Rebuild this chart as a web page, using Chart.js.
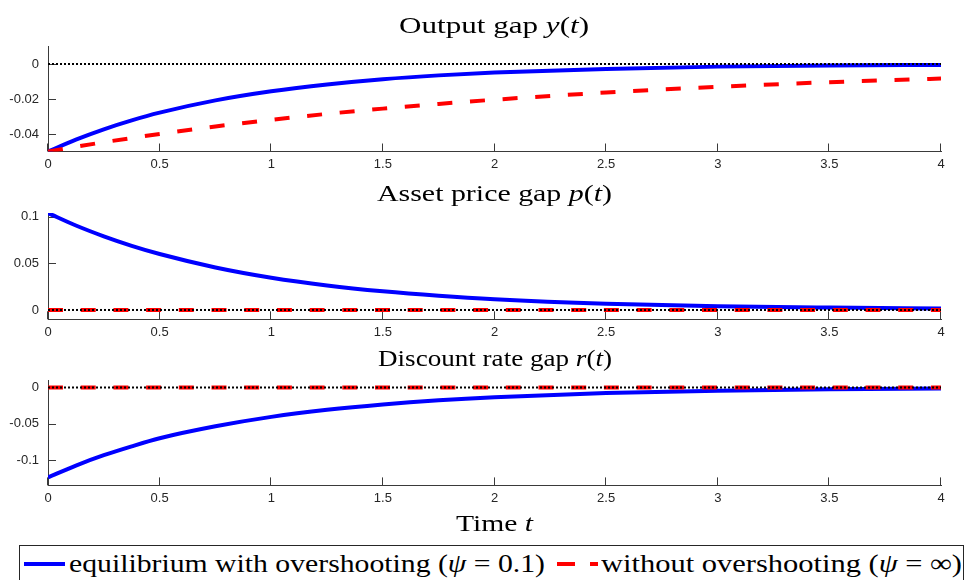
<!DOCTYPE html>
<html>
<head>
<meta charset="utf-8">
<script src="https://cdn.jsdelivr.net/npm/chart.js@4"></script>
<style>
  html, body { margin: 0; padding: 0; background: #fff; }
  body { width: 966px; height: 580px; overflow: hidden; position: relative;
         font-family: "Liberation Serif", "DejaVu Serif", serif; color: #000; }
  .plot { position: absolute; left: 0; width: 966px; }
  .txt { position: absolute; white-space: nowrap; display: inline-block;
         transform-origin: 0 50%; }
  .ttl { font-size: 24px; line-height: 30px; height: 30px; }
  .leg { font-size: 26px; line-height: 30px; height: 30px; }
  .legend { position: absolute; left: 19px; top: 545px; width: 945px; height: 45px;
            border: 1px solid #262626; box-sizing: border-box; }
  .swatch { position: absolute; height: 4px; }
</style>
</head>
<body>

<canvas id="cOutput" class="plot" style="top:0px" width="966" height="180"></canvas>
<canvas id="cPrice" class="plot" style="top:180px" width="966" height="170"></canvas>
<canvas id="cRate" class="plot" style="top:350px" width="966" height="180"></canvas>

<span class="txt ttl" style="left:399px; top:10px" data-fit="190">Output gap <i>y</i>(<i>t</i>)</span>
<span class="txt ttl" style="left:377px; top:178px" data-fit="235">Asset price gap <i>p</i>(<i>t</i>)</span>
<span class="txt ttl" style="left:378px; top:343px" data-fit="234">Discount rate gap <i>r</i>(<i>t</i>)</span>
<span class="txt ttl" style="left:456px; top:508px" data-fit="77">Time <i>t</i></span>

<div class="legend"></div>
<div class="swatch" style="left:24px; top:562px; width:41px; background:#0000ff"></div>
<span class="txt leg" style="left:69px; top:549px" data-fit="476">equilibrium with overshooting (<i>ψ</i> = 0.1)</span>
<div class="swatch" style="left:557px; top:562px; width:18px; background:#ff0000"></div>
<div class="swatch" style="left:590px; top:562px; width:8px; background:#ff0000"></div>
<span class="txt leg" style="left:601px; top:549px" data-fit="361">without overshooting (<i>ψ</i> = ∞)</span>

<script>
// Time grid and impulse responses of the three gaps
const time = [0, 0.125, 0.25, 0.375, 0.5, 0.75, 1, 1.25, 1.5, 1.75, 2, 2.5, 3, 3.5, 4];

const outputOvershoot   = [-0.05, -0.0432, -0.0373, -0.0322, -0.0278, -0.0208, -0.0156, -0.0117, -0.0087, -0.0065, -0.0049, -0.0028, -0.0015, -0.0008, -0.0005];
const outputNoOvershoot = [-0.05, -0.0473, -0.0447, -0.0423, -0.0400, -0.0357, -0.0319, -0.0285, -0.0255, -0.0228, -0.0204, -0.0163, -0.0130, -0.0104, -0.0083];

const priceOvershoot    = [0.104, 0.0906, 0.0790, 0.0688, 0.0600, 0.0456, 0.0346, 0.0263, 0.0200, 0.0152, 0.0115, 0.0067, 0.0040, 0.0026, 0.0017];
const priceNoOvershoot  = [0, 0, 0, 0, 0, 0, 0, 0, 0, 0, 0, 0, 0, 0, 0];

const rateOvershoot     = [-0.124, -0.1076, -0.0934, -0.0811, -0.0700, -0.0535, -0.0405, -0.0307, -0.0233, -0.0176, -0.0134, -0.0077, -0.0044, -0.0025, -0.0015];
const rateNoOvershoot   = [0, 0, 0, 0, 0, 0, 0, 0, 0, 0, 0, 0, 0, 0, 0];

// Steady-state reference line
const zeroLineT = [0, 4];
const zeroLineV = [0, 0];

// Axis ticks
const xTicks = [0, 0.5, 1, 1.5, 2, 2.5, 3, 3.5, 4];
const xTickLabels = ['0', '0.5', '1', '1.5', '2', '2.5', '3', '3.5', '4'];
const outputYTicks = [-0.04, -0.02, 0];
const outputYTickLabels = ['-0.04', '-0.02', '0'];
const priceYTicks = [0, 0.05, 0.1];
const priceYTickLabels = ['0', '0.05', '0.1'];
const rateYTicks = [-0.1, -0.05, 0];
const rateYTickLabels = ['-0.1', '-0.05', '0'];

// Axis limits
const outputYRange = [-0.05, 0.01];
const priceYRange = [-0.01, 0.104];
const rateYRange = [-0.135, 0.01];

const pts = (xs, ys) => xs.map((x, i) => ({ x, y: ys[i] }));

const AXIS = '#3a3a3a';
const TICKTXT = '#262626';

// Tick marks drawn inward from the axes
const insideTicks = {
  id: 'insideTicks',
  beforeDatasetsDraw(chart) {
    const { ctx, chartArea: a, scales: { x, y } } = chart;
    ctx.save();
    ctx.strokeStyle = AXIS;
    ctx.lineWidth = 1;
    ctx.beginPath();
    x.ticks.forEach(t => {
      const px = Math.round(x.getPixelForValue(t.value)) - 0.5;
      ctx.moveTo(px, a.bottom);
      ctx.lineTo(px, a.bottom - 8);
    });
    y.ticks.forEach(t => {
      const py = Math.round(y.getPixelForValue(t.value)) + 0.5;
      ctx.moveTo(a.left, py);
      ctx.lineTo(a.left + 8, py);
    });
    ctx.stroke();
    ctx.restore();
  }
};

function makeChart(id, blue, red, yRange, yTicks, yLabels, padTop, xAxisH) {
  const tickFont = { family: '"Liberation Sans", Arial, sans-serif', size: 13 };
  return new Chart(document.getElementById(id), {
    type: 'line',
    data: {
      datasets: [
        { data: pts(time, blue), borderColor: '#0000ff', borderWidth: 4,
          pointRadius: 0, cubicInterpolationMode: 'monotone', order: 3 },
        { data: pts(time, red), borderColor: '#ff0000', borderWidth: 4,
          borderDash: [15, 17.7], pointRadius: 0, cubicInterpolationMode: 'monotone', order: 2 },
        { data: pts(zeroLineT, zeroLineV), borderColor: '#000000', borderWidth: 2,
          borderDash: [2, 2], pointRadius: 0, order: 1 }
      ]
    },
    options: {
      responsive: false,
      animation: false,
      events: [],
      layout: { padding: { top: padTop, left: 0, right: 25, bottom: 0 } },
      plugins: { legend: { display: false }, title: { display: false }, tooltip: { enabled: false } },
      scales: {
        x: {
          type: 'linear', min: 0, max: 4,
          afterBuildTicks: s => { s.ticks = xTicks.map(v => ({ value: v })); },
          afterFit: s => { s.height = xAxisH; },
          ticks: { callback: (v, i) => xTickLabels[i], font: tickFont, color: TICKTXT,
                   padding: 5, maxRotation: 0, autoSkip: false },
          grid: { display: true, drawOnChartArea: false, drawTicks: false },
          border: { display: true, color: AXIS, width: 1 }
        },
        y: {
          type: 'linear', min: yRange[0], max: yRange[1],
          afterBuildTicks: s => { s.ticks = yTicks.map(v => ({ value: v })); },
          afterFit: s => { s.width = 48; },
          ticks: { callback: (v, i) => yLabels[i], font: tickFont, color: TICKTXT,
                   padding: 9, autoSkip: false },
          grid: { display: true, drawOnChartArea: false, drawTicks: false },
          border: { display: true, color: AXIS, width: 1 }
        }
      }
    },
    plugins: [insideTicks]
  });
}

makeChart('cOutput', outputOvershoot, outputNoOvershoot, outputYRange, outputYTicks, outputYTickLabels, 46.5, 28.5);
makeChart('cPrice', priceOvershoot, priceNoOvershoot, priceYRange, priceYTicks, priceYTickLabels, 33, 30.7);
makeChart('cRate', rateOvershoot, rateNoOvershoot, rateYRange, rateYTicks, rateYTickLabels, 30.25, 44.6);

// Stretch each serif label horizontally to its set width
document.querySelectorAll('[data-fit]').forEach(el => {
  const w = el.getBoundingClientRect().width;
  el.style.transform = 'scaleX(' + (+el.dataset.fit / w) + ')';
});
</script>
</body>
</html>
